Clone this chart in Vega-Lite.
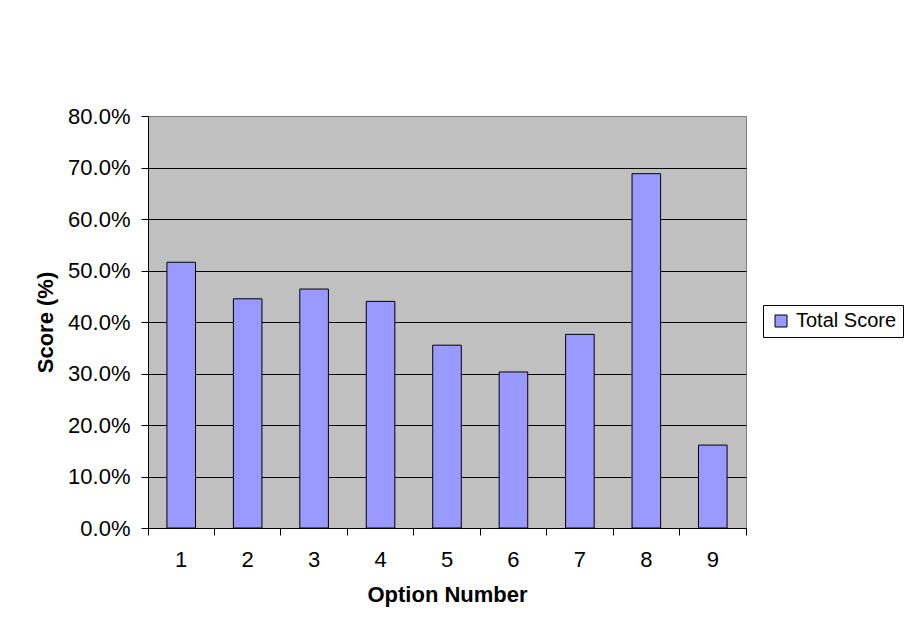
{
  "$schema": "https://vega.github.io/schema/vega-lite/v6.json",
  "width": 598,
  "height": 412,
  "autosize": {"type": "none"},
  "padding": {"left": 148, "top": 116, "right": 158, "bottom": 105},
  "background": "#ffffff",
  "config": {
    "font": "Liberation Sans",
    "view": {"fill": "#c0c0c0", "stroke": "#808080", "strokeWidth": 1}
  },
  "data": {
    "values": [
      {"option": "1", "score": 0.516, "series": "Total Score"},
      {"option": "2", "score": 0.445, "series": "Total Score"},
      {"option": "3", "score": 0.464, "series": "Total Score"},
      {"option": "4", "score": 0.440, "series": "Total Score"},
      {"option": "5", "score": 0.355, "series": "Total Score"},
      {"option": "6", "score": 0.303, "series": "Total Score"},
      {"option": "7", "score": 0.376, "series": "Total Score"},
      {"option": "8", "score": 0.688, "series": "Total Score"},
      {"option": "9", "score": 0.161, "series": "Total Score"}
    ]
  },
  "mark": {"type": "bar", "stroke": "#000000", "strokeWidth": 1, "width": {"band": 0.43}},
  "encoding": {
    "x": {
      "field": "option",
      "type": "ordinal",
      "scale": {"paddingInner": 0, "paddingOuter": 0},
      "axis": {
        "title": "Option Number",
        "titleFont": "Liberation Sans",
        "titleFontSize": 22,
        "titleFontWeight": "bold",
        "titleColor": "#000000",
        "titlePadding": 14,
        "labelAngle": 0,
        "labelFontSize": 22,
        "labelColor": "#000000",
        "labelPadding": 14,
        "bandPosition": 1,
        "tickExtra": true,
        "tickSize": 7,
        "tickColor": "#000000",
        "domainColor": "#000000",
        "grid": false
      }
    },
    "y": {
      "field": "score",
      "type": "quantitative",
      "scale": {"domain": [0, 0.8], "nice": false},
      "axis": {
        "title": "Score (%)",
        "titleFont": "Liberation Sans",
        "titleFontSize": 22,
        "titleFontWeight": "bold",
        "titleColor": "#000000",
        "titlePadding": 10,
        "format": ".1%",
        "values": [0, 0.1, 0.2, 0.3, 0.4, 0.5, 0.6, 0.7, 0.8],
        "labelFontSize": 22,
        "labelColor": "#000000",
        "labelPadding": 11,
        "tickSize": 7,
        "tickColor": "#000000",
        "domainColor": "#000000",
        "grid": true,
        "gridColor": {"condition": {"test": "datum.value >= 0.8", "value": "#808080"}, "value": "#000000"},
        "gridOpacity": 1,
        "gridWidth": 1
      }
    },
    "color": {
      "field": "series",
      "type": "nominal",
      "scale": {"range": ["#9999ff"]},
      "legend": {
        "title": null,
        "orient": "none",
        "legendX": 615,
        "legendY": 189,
        "strokeColor": "#000000",
        "fillColor": "#ffffff",
        "padding": 6,
        "symbolType": "square",
        "symbolSize": 144,
        "symbolOffset": 2,
        "symbolStrokeColor": "#000000",
        "symbolStrokeWidth": 1,
        "labelOffset": 5,
        "labelFontSize": 20,
        "labelColor": "#000000",
        "labelFont": "Liberation Sans"
      }
    }
  }
}
